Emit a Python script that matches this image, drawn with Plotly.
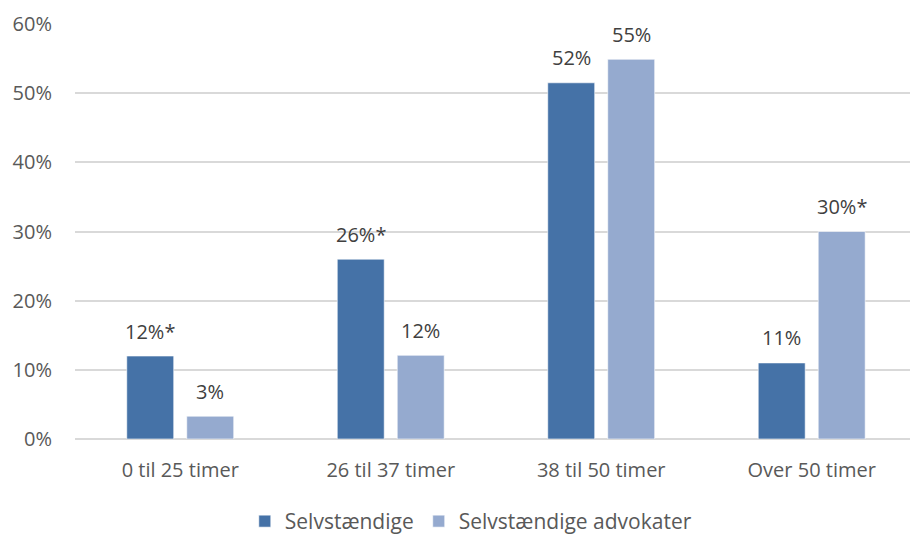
import plotly.graph_objects as go

# Weekly working hours, share of respondents
categories = ["0 til 25 timer", "26 til 37 timer", "38 til 50 timer", "Over 50 timer"]
selvstaendige = [12.0, 26.0, 51.5, 11.0]
advokater = [3.3, 12.1, 54.9, 30.0]
# "*" marks statistically significant differences
selvstaendige_mark = ["*", "*", "", ""]
advokater_mark = ["", "", "", "*"]

series = [
    ("Selvstændige", selvstaendige, selvstaendige_mark, "#4572A7", -30),
    ("Selvstændige advokater", advokater, advokater_mark, "#95AACF", 30),
]

FONT = "Open Sans"

fig = go.Figure()
for name, values, marks, color, _ in series:
    fig.add_trace(go.Bar(
        name=name,
        x=categories,
        y=values,
        marker=dict(color=color, line=dict(color="rgba(255,255,255,0.6)", width=1)),
        hoverinfo="skip",
    ))

annotations = []
for name, values, marks, color, dx in series:
    for cat, v, m in zip(categories, values, marks):
        annotations.append(dict(
            x=cat, y=v, xref="x", yref="y",
            text=f"{v:.0f}%{m}",
            showarrow=False,
            xanchor="center", yanchor="middle",
            xshift=dx, yshift=25,
            font=dict(family=FONT, size=20, color="#404040"),
        ))

fig.update_layout(
    width=910, height=542,
    margin=dict(l=75, r=0, t=24, b=103),
    paper_bgcolor="white", plot_bgcolor="white",
    barmode="group", bargap=0.43, bargroupgap=0.217,
    font=dict(family=FONT, color="#595959"),
    annotations=annotations,
    legend=dict(
        orientation="h", x=0.474, xanchor="center",
        yref="container", y=0.0, yanchor="bottom",
        font=dict(family=FONT, size=21, color="#595959"),
        itemwidth=30, traceorder="normal",
    ),
    xaxis=dict(
        range=[-0.5, 3.467], showgrid=False, showline=False, zeroline=False,
        tickfont=dict(family=FONT, size=20, color="#595959"),
        ticklabelstandoff=17,
    ),
    yaxis=dict(
        range=[0, 60], dtick=10, ticksuffix="%",
        showgrid=True, gridcolor="#D9D9D9", gridwidth=1.5,
        zeroline=True, zerolinecolor="#D9D9D9", zerolinewidth=1.5,
        showline=False,
        tickfont=dict(family=FONT, size=20, color="#595959"),
        ticklabelstandoff=22,
    ),
)

fig.write_html("out.html")
